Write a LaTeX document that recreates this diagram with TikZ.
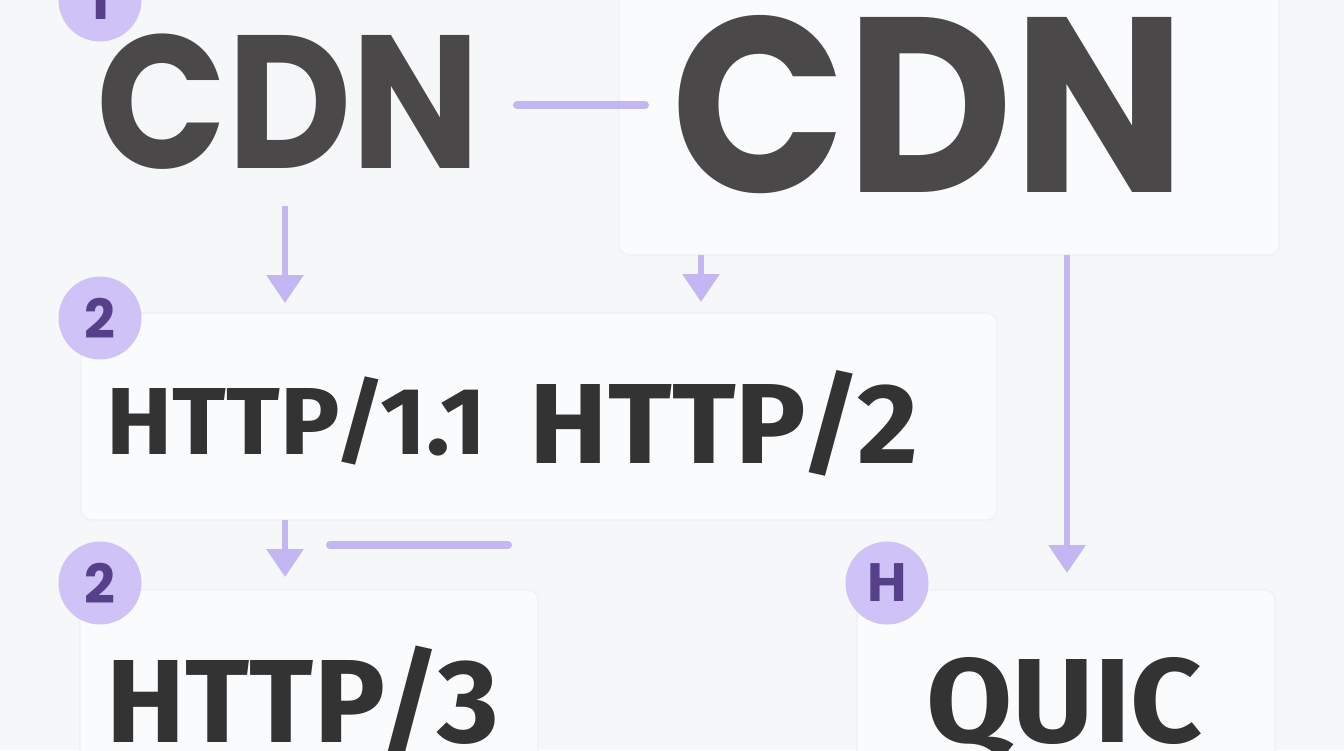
\documentclass[tikz,border=0pt]{standalone}
\usepackage{fontspec}
\usepackage{graphicx}
\setmainfont{Poppins}
\newfontfamily\httpfont{Fira Sans}
\usetikzlibrary{arrows.meta}
\definecolor{bgc}{HTML}{F5F7F9}
\definecolor{boxfill}{HTML}{FAFBFC}
\definecolor{boxline}{HTML}{EEF0F3}
\definecolor{lav}{HTML}{C3B6F2}
\definecolor{badgefill}{HTML}{CFC2F7}
\definecolor{badgetext}{HTML}{564089}
\definecolor{cdnc}{HTML}{4A4848}
\definecolor{httpc}{HTML}{333333}
\newcommand\fitbox[3]{\resizebox{#1}{#2}{\vphantom{H}\smash{#3}}}
\tikzset{
  boxst/.style={draw=boxline, fill=boxfill, rounded corners=5pt, line width=0.6pt, inner sep=0pt, outer sep=0pt},
  badge/.style={circle, fill=badgefill, text=badgetext, minimum size=41.5pt, inner sep=0pt, font=\bfseries\fontsize{27}{27}\selectfont},
  txt/.style={inner sep=0pt, outer sep=0pt},
  arr/.style={draw=lav, line width=3pt, -{Triangle[width=18pt,length=14pt]}},
  bar/.style={draw=lav, line width=4pt, line cap=round}
}
\begin{document}
\begin{tikzpicture}[x=0.5pt,y=-0.5pt]
\useasboundingbox (0,0) rectangle (1344,750);
\clip (0,0) rectangle (1344,750);
\fill[bgc] (0,0) rectangle (1344,750);

% boxes
\node[boxst, minimum width=330pt, minimum height=137.5pt] (boxR) at (949,117.5) {};
\node[boxst, minimum width=458pt, minimum height=103.5pt] (boxM) at (539,416.5) {};
\node[boxst, minimum width=229pt, minimum height=100pt] (box3) at (309,690) {};
\node[boxst, minimum width=209pt, minimum height=100pt] (boxQ) at (1066,690) {};

% texts
\node[txt, text=cdnc, font=\bfseries] (cdnL) at (288.5,101.5) {\fitbox{192pt}{66.5pt}{CDN}};
\node[txt, text=cdnc, font=\bfseries] (cdnR) at (929,104.5) {\fitbox{257pt}{87.5pt}{CDN}};
\node[txt, text=httpc, font=\httpfont\bfseries] (h11) at (296.5,421) {\fitbox{190pt}{33pt}{HTTP/1.1}};
\node[txt, text=httpc, font=\httpfont\bfseries] (h2) at (724,423.5) {\fitbox{194pt}{39.5pt}{HTTP/2}};
\node[txt, text=httpc, font=\httpfont\bfseries] (h3) at (303,701) {\fitbox{196pt}{41pt}{HTTP/3}};
\node[txt, text=httpc, font=\httpfont\bfseries] (quic) at (1064.5,700.5) {\fitbox{138pt}{41.5pt}{QUIC}};

% badges
\node[badge] (b1) at (100,0) {1};
\node[badge] (b2) at (100,318) {2};
\node[badge] (b3) at (100,583) {2};
\node[badge] (bH) at (887,583) {H};

% connectors
\coordinate (l1a) at (517,105);
\coordinate (l1b) at (645,105);
\draw[bar] (l1a) -- (l1b);
\coordinate (a1s) at (285,206);
\draw[arr, shorten >=5pt] (a1s) -- (a1s |- boxM.north);
\draw[arr, shorten >=5.5pt] (boxR.south -| 701,0) -- (boxM.north -| 701,0);
\draw[arr, shorten >=8.5pt] (boxR.south -| 1067,0) -- (boxQ.north -| 1067,0);
\draw[arr, shorten >=6.5pt] (boxM.south -| 285,0) -- (box3.north -| 285,0);
\coordinate (l5a) at (330,545);
\coordinate (l5b) at (508,545);
\draw[bar] (l5a) -- (l5b);
\end{tikzpicture}
\end{document}
